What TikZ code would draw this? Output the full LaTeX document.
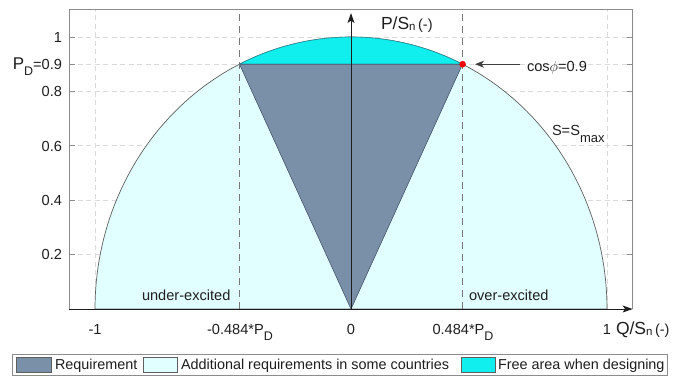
\documentclass[tikz,border=0pt]{standalone}
\usepackage{fontspec}
\setmainfont{Liberation Sans}
\usetikzlibrary{arrows.meta}
\definecolor{reqcol}{RGB}{122,143,168}
\definecolor{reqedge}{RGB}{70,86,108}
\definecolor{addcol}{RGB}{226,255,255}
\definecolor{freecol}{RGB}{16,238,238}
\definecolor{freeedge}{RGB}{40,140,150}
\definecolor{gridcol}{RGB}{218,218,218}
\definecolor{boxcol}{RGB}{140,140,140}
\definecolor{curvecol}{RGB}{95,95,95}
\definecolor{markcol}{RGB}{120,120,120}
\definecolor{txtcol}{RGB}{30,30,30}
\newcommand\lowsub[3]{\raisebox{-#1}{\fontsize{#2}{#2}\selectfont #3}}
\newcommand\unitpart{\hspace{2.5pt}{\fontsize{14.5}{14.5}\selectfont (-)}}
\begin{document}
\begin{tikzpicture}[x=1pt,y=-1pt,
  font=\fontsize{14.6}{17}\selectfont, text=txtcol,
  lbl/.style={inner sep=0pt, outer sep=0pt},
  axlbl/.style={inner sep=0pt, outer sep=0pt, font=\fontsize{17.5}{20}\selectfont},
  legtext/.style={inner sep=0pt, outer sep=0pt, anchor=base west, font=\fontsize{14.4}{17}\selectfont},
  swatch/.style={draw=curvecol, line width=0.6pt},
  gridline/.style={gridcol, line width=0.7pt, dash pattern=on 5pt off 3.5pt},
  markline/.style={markcol, line width=0.9pt, dash pattern=on 7pt off 5pt},
  axisarrow/.style={txtcol, line width=0.9pt, -{Stealth[length=10pt, width=7pt, inset=2.5pt]}},
  tickline/.style={boxcol, line width=0.8pt}]
\useasboundingbox (0,0) rectangle (679,376);
\begin{scope}[shift={(351,309)}, x=256pt, y=272pt]
  % grid
  \foreach \yy in {0.2,0.4,0.6,0.8,0.9,1} \draw[gridline] (-1.1,\yy) -- (1.1,\yy);
  \foreach \xx in {-1,1} \draw[gridline] (\xx,0) -- (\xx,1.1);
  % key points
  \coordinate (O) at (0,0);
  \coordinate (TL) at (-0.4356,0.9);
  \coordinate (TR) at (0.4356,0.9);
  \coordinate (dot) at (0.43589,0.9);
  % regions
  \filldraw[fill=addcol, draw=curvecol, line width=0.7pt]
    plot[domain=0:180, samples=121] ({cos(\x)},{sin(\x)}) -- cycle;
  \filldraw[fill=freecol, draw=freeedge, line width=0.6pt]
    plot[domain=64.158:115.842, samples=41] ({cos(\x)},{sin(\x)}) -- cycle;
  \filldraw[fill=reqcol, draw=reqedge, line width=0.6pt] (O) -- (TL) -- (TR) -- cycle;
  % marker lines
  \draw[markline] (-0.4356,0) -- (-0.4356,1.1);
  \draw[markline] (0.4356,0) -- (0.4356,1.1);
  % box
  \draw[boxcol, line width=0.9pt] (-1.1,0) -- (-1.1,1.1) -- (1.1,1.1) -- (1.1,0);
  \foreach \yy in {0.2,0.4,0.6,0.8,0.9,1} {
    \draw[tickline] (-1.1,\yy) -- ++(0.021,0);
    \draw[tickline] (1.1,\yy) -- ++(-0.021,0);
  }
  % axes
  \draw[axisarrow] (-1.1,0) -- (1.1,0);
  \draw[axisarrow] (O) -- (0,1.088);
  % point
  \fill[red] (dot) circle[radius=3.3pt];
\end{scope}
% y tick labels
\node[lbl, anchor=base east] (y1) at (62,42.5) {1};
\node[lbl, anchor=base east] (y09) at (62,69) {{\fontsize{17}{17}\selectfont P}\lowsub{6pt}{12.5}{D}=0.9};
\node[lbl, anchor=base east] (y08) at (62,96.7) {0.8};
\node[lbl, anchor=base east] (y06) at (62,151.1) {0.6};
\node[lbl, anchor=base east] (y04) at (62,205.5) {0.4};
\node[lbl, anchor=base east] (y02) at (62,259.9) {0.2};
% x tick labels
\node[lbl, anchor=base] (xm1) at (95,334) {-1};
\node[lbl, anchor=base] (xmpd) at (240,334) {-0.484*P\lowsub{6pt}{12.5}{D}};
\node[lbl, anchor=base] (x0) at (351,334) {0};
\node[lbl, anchor=base] (xpd) at (463,334) {0.484*P\lowsub{6pt}{12.5}{D}};
\node[lbl, anchor=base] (x1) at (607,334) {1};
% axis labels
\node[axlbl, anchor=base west] (ylab) at (381,29) {P/S\lowsub{1.5pt}{11.5}{n}\unitpart};
\node[axlbl, anchor=base west] (xlab) at (616,334) {Q/S\lowsub{1.5pt}{11.5}{n}\unitpart};
% annotations
\node[lbl, anchor=base west] (cosl) at (527,71) {cos$\phi$=0.9};
\draw[txtcol!85, line width=1pt, -{Stealth[length=9pt, width=7pt, inset=2.5pt]},
  shorten <=7pt, shorten >=12.4pt] (cosl.west |- dot) -- (dot);
\node[lbl, anchor=base west] (smax) at (552,135) {S=S\lowsub{7pt}{13}{max}};
\node[lbl, anchor=base west] (under) at (142,300) {under-excited};
\node[lbl, anchor=base west] (over) at (469,300) {over-excited};
% legend
\draw[boxcol, fill=white, line width=0.8pt] (12,354) rectangle (667,375.5);
\filldraw[swatch, fill=reqcol] (16,357.5) rectangle (51,372.5);
\node[legtext] (leg1) at (55,369) {Requirement};
\filldraw[swatch, fill=addcol] (143,357.5) rectangle (177,372.5);
\node[legtext] (leg2) at (181,369) {Additional requirements in some countries};
\filldraw[swatch, fill=freecol] (461,357.5) rectangle (495,372.5);
\node[legtext] (leg3) at (498,369) {Free area when designing};
\end{tikzpicture}
\end{document}
